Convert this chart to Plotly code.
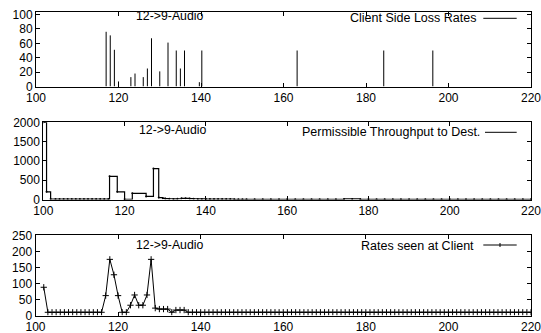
import plotly.graph_objects as go

W, H = 541, 333

# ---------------- data ----------------
# Panel 1: client side loss rates (impulses)
loss_x = [117, 118, 119, 120, 123, 124, 126, 127, 128, 130, 132, 134, 135, 136, 139.6, 140.2, 163.3, 184.3, 196.2]
loss_y = [76, 71, 51, 7, 13, 18, 13, 25, 67, 21, 61, 50, 25, 50, 6, 50, 50, 50, 50]

# Panel 2: permissible throughput to destination (steps)
thr_x = [100.1, 100.8, 101.8, 103, 104, 105, 106, 107, 108, 109, 110, 111, 112, 113, 114, 115, 116,
         116.3, 118.2, 120.0, 121.9, 125.3, 127.1, 128.4, 129.4, 130, 131, 132, 133, 134, 135, 136, 137,
         138, 139, 140, 141, 142, 143, 144, 145, 146, 147, 148, 149, 150, 152, 154, 156, 158, 160,
         162, 164, 166, 168, 170, 172, 174, 176, 178, 180, 182, 184, 186, 188, 190, 192, 194, 196,
         198, 200, 202, 204, 206, 208, 210, 212, 214, 216, 218, 220]
thr_y = [2000, 200, 10, 10, 10, 10, 10, 10, 10, 10, 10, 10, 10, 10, 10, 10, 10,
         600, 200, 5, 160, 80, 800, 50, 30, 25, 20, 15, 20, 30, 30, 25, 20,
         15, 15, 10, 10, 10, 10, 10, 10, 10, 5, 5, 5, 5, 5, 5, 5, 5, 5,
         5, 5, 5, 5, 5, 5, 15, 15, 5, 5, 5, 5, 5, 5, 5, 5, 5, 5,
         5, 5, 5, 5, 5, 5, 5, 5, 5, 5, 5, 5]

# Panel 3: rates seen at client (linespoints)
rate_x = [102, 103, 104, 105, 106, 107, 108, 109, 110, 111, 112, 113, 114, 115, 116,
          117, 118, 119, 120, 121, 122, 123, 124, 125, 126, 127, 128, 129, 130, 131, 132,
          133, 134, 135, 136, 137, 138, 139, 140, 141, 142, 143, 144, 145, 146, 147, 148,
          149, 150, 151, 152, 153, 154, 155, 156, 157, 158, 159, 160, 161, 162, 163, 164,
          165, 166, 167, 168, 169, 170, 171, 172, 173, 174, 175, 176, 177, 178, 179, 180,
          181, 182, 183, 184, 185, 186, 187, 188, 189, 190, 191, 192, 193, 194, 195, 196,
          197, 198, 199, 200, 201, 202, 203, 204, 205, 206, 207, 208, 209, 210, 211, 212,
          213, 214, 215, 216, 217, 218, 219, 220]
rate_y = [88, 10, 10, 10, 10, 10, 10, 10, 10, 10, 10, 10, 10, 10, 10,
          62, 175, 127, 62, 10, 10, 32, 64, 32, 32, 64, 175, 23, 20, 20, 20,
          10, 17, 17, 17, 10, 10, 10, 10, 10, 10, 10, 10, 10, 10, 10, 10,
          10, 10, 10, 10, 10, 10, 10, 10, 10, 10, 10, 10, 10, 10, 10, 10,
          10, 10, 10, 10, 10, 10, 10, 10, 10, 10, 10, 10, 10, 10, 10, 10,
          10, 10, 10, 10, 10, 10, 10, 10, 10, 10, 10, 10, 10, 10, 10, 10,
          10, 10, 10, 10, 10, 10, 10, 10, 10, 10, 10, 10, 10, 10, 10, 10,
          10, 10, 10, 10, 10, 10, 10, 10]

panel_label = "12->9-Audio"
legend_names = ["Client Side Loss Rates", "Permissible Throughput to Dest.", "Rates seen at Client"]
x_ticks = [100, 120, 140, 160, 180, 200, 220]
y_ticks_1 = [0, 20, 40, 60, 80, 100]
y_ticks_2 = [0, 500, 1000, 1500, 2000]
y_ticks_3 = [0, 50, 100, 150, 200, 250]

# ---------------- layout helpers ----------------
def px(x):
    return x / W

def py(y):
    return 1 - y / H

FONT = "Liberation Sans, Arial, Helvetica, sans-serif"

fig = go.Figure()

# impulses built from the data arrays
imp_x, imp_y = [], []
for xv, yv in zip(loss_x, loss_y):
    imp_x += [xv, xv, None]
    imp_y += [0, yv, None]
fig.add_trace(go.Scatter(x=imp_x, y=imp_y, mode="lines", line=dict(color="black", width=1),
                         xaxis="x", yaxis="y", showlegend=False, hoverinfo="skip"))

fig.add_trace(go.Scatter(x=thr_x, y=thr_y, mode="lines+markers", line=dict(color="black", width=1.2, shape="hv"),
                         marker=dict(size=2, color="black"),
                         xaxis="x2", yaxis="y2", showlegend=False))

fig.add_trace(go.Scatter(x=rate_x, y=rate_y, mode="lines+markers", line=dict(color="black", width=1),
                         marker=dict(symbol="cross-thin", size=4.5, line=dict(color="black", width=1)),
                         xaxis="x3", yaxis="y3", showlegend=False))

# panel geometry (pixels)
panels = [
    dict(x0=36, x1=531, y0=12, y1=86.5, yr=[0, 103.5], yt=y_ticks_1),
    dict(x0=43.3, x1=531, y0=122.3, y1=199.5, yr=[0, 2000], yt=y_ticks_2),
    dict(x0=35.5, x1=531, y0=235.3, y1=315.5, yr=[0, 250], yt=y_ticks_3),
]

axis_common = dict(showgrid=False, zeroline=False, showline=True, linecolor="black", linewidth=1,
                   mirror="ticks", ticks="inside", ticklen=4, tickcolor="black", tickwidth=1,
                   automargin=False, ticklabeloverflow="allow",
                   tickfont=dict(family=FONT, size=12, color="black"))

layout = dict(width=W, height=H, margin=dict(l=0, r=0, t=0, b=0, autoexpand=False),
              paper_bgcolor="white", plot_bgcolor="white", showlegend=False)
for i, p in enumerate(panels):
    sfx = "" if i == 0 else str(i + 1)
    layout["xaxis" + sfx] = dict(domain=[px(p["x0"]), px(p["x1"])], range=[100, 220],
                                  tickvals=x_ticks, anchor="y" + sfx, **axis_common)
    layout["yaxis" + sfx] = dict(domain=[py(p["y1"]), py(p["y0"])], range=p["yr"],
                                  tickvals=p["yt"], anchor="x" + sfx, **axis_common)
fig.update_layout(**layout)

# in-plot labels and gnuplot-style keys (text left, sample right)
label_pos = [(170, 15.5), (173.3, 130), (169.7, 244.5)]
key_pos = [(478.3, 18.3), (481.7, 132), (476, 245.5)]
sample = [(483.3, 516.7, 18.3), (485, 516.7, 132.3), (483.3, 516.7, 245)]
ann = []
shapes = []
for i in range(3):
    lx, ly = label_pos[i]
    ann.append(dict(x=px(lx), y=py(ly), xref="paper", yref="paper", text=panel_label, showarrow=False,
                    xanchor="center", yanchor="middle", font=dict(family=FONT, size=12.3, color="black")))
    kx, ky = key_pos[i]
    ann.append(dict(x=px(kx), y=py(ky), xref="paper", yref="paper", text=legend_names[i], showarrow=False,
                    xanchor="right", yanchor="middle", font=dict(family=FONT, size=12.5, color="black")))
    s0, s1, sy = sample[i]
    shapes.append(dict(type="line", xref="paper", yref="paper", x0=px(s0), x1=px(s1), y0=py(sy), y1=py(sy),
                       line=dict(color="black", width=1)))
# point symbol on the third key sample
shapes.append(dict(type="line", xref="paper", yref="paper", x0=px(500), x1=px(500), y0=py(243), y1=py(247),
                   line=dict(color="black", width=1)))
fig.update_layout(annotations=ann, shapes=shapes)

fig.write_html("out.html", config={"displayModeBar": False},
               post_script="document.body.style.margin='0';document.body.style.padding='0';"
                           "document.body.style.overflow='hidden';")
